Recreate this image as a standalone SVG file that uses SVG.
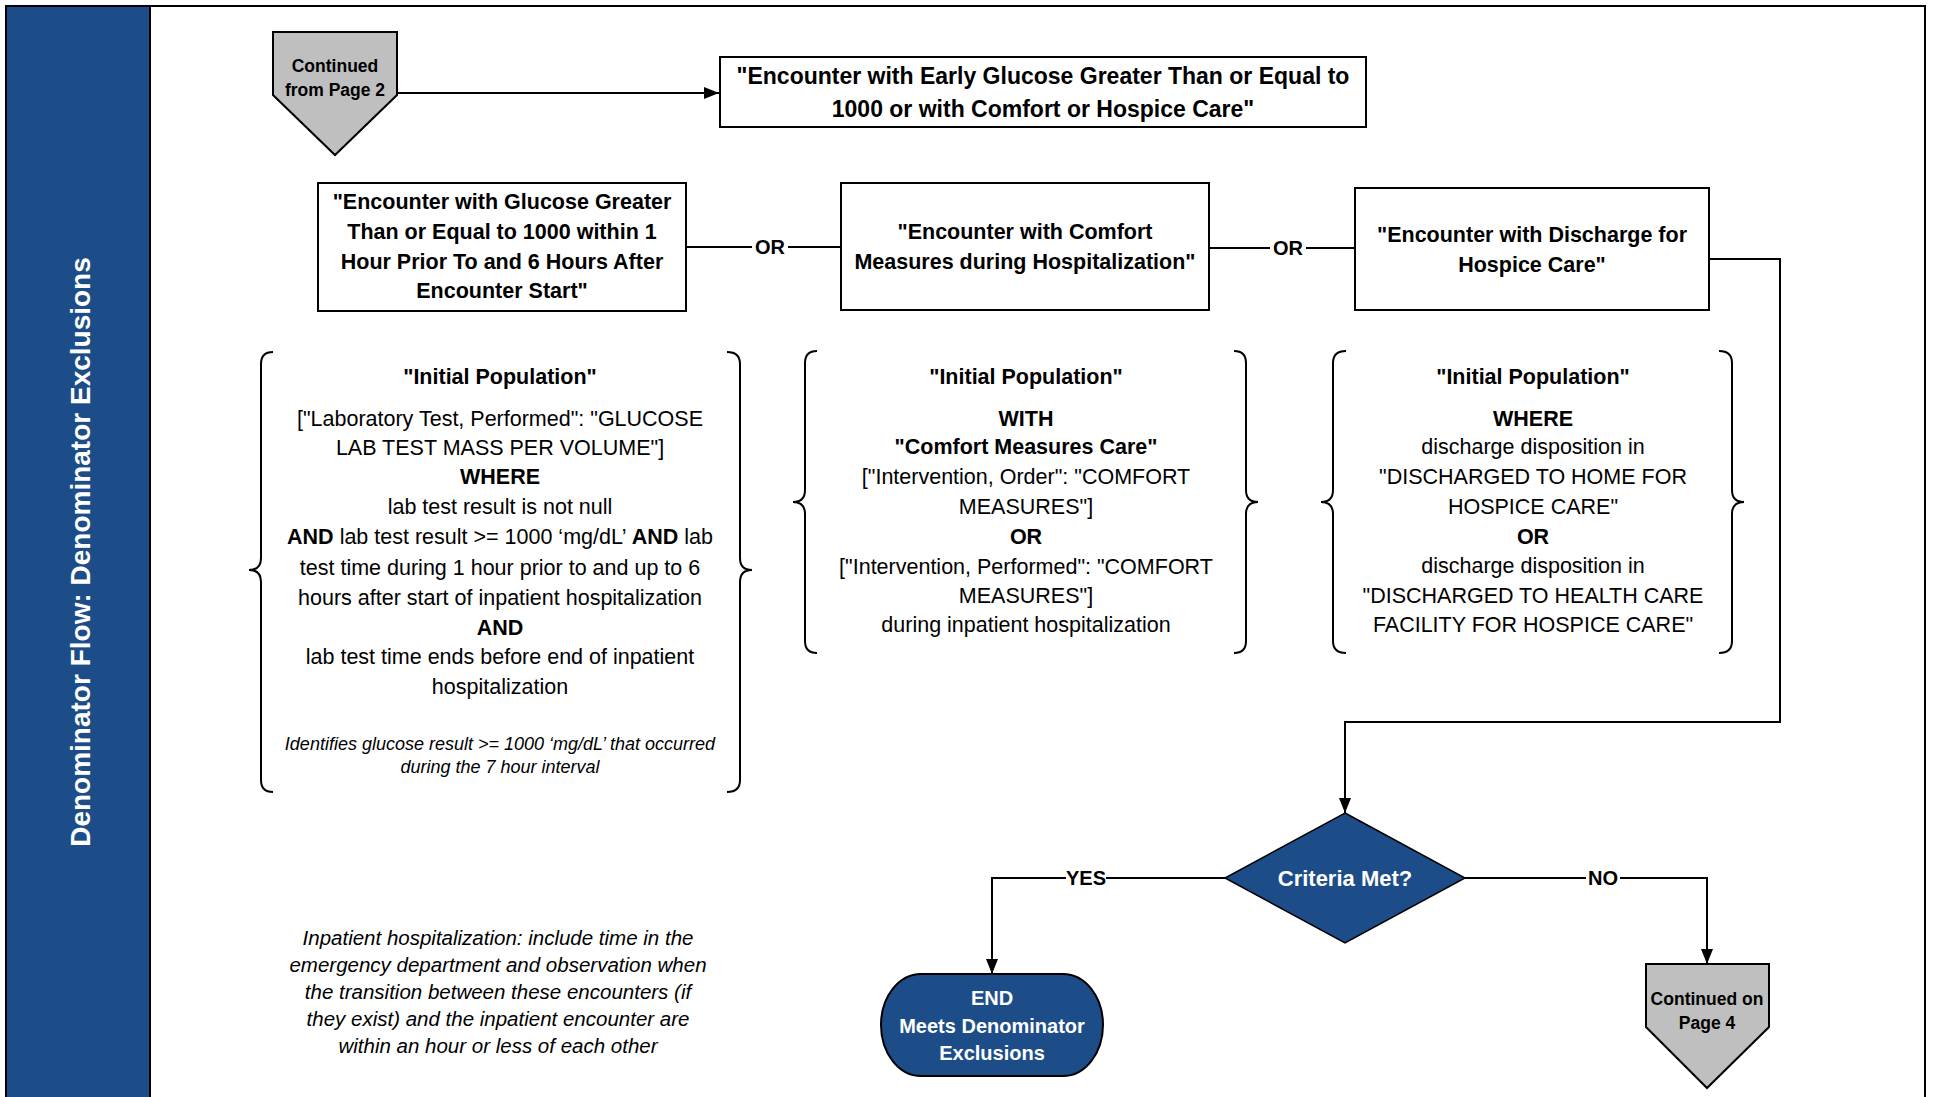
<svg xmlns="http://www.w3.org/2000/svg" width="1933" height="1097" viewBox="0 0 1933 1097">
<defs>
<style>
text{font-family:"Liberation Sans",Arial,sans-serif;fill:#000;text-anchor:middle;dominant-baseline:central}
.box{fill:#fff;stroke:#000;stroke-width:2}
.title{font-weight:bold;font-size:21.5px}
.ttop{font-weight:bold;font-size:23px}
.body{font-size:21.5px}
.b{font-weight:bold}
.note{font-style:italic;font-size:18px}
.note2{font-style:italic;font-size:20.5px}
.lbl{font-weight:bold;font-size:20px}
.wt{fill:#fff;font-weight:bold}
.grey{fill:#BFBFBF;stroke:#000;stroke-width:2}
.blue{fill:#1D4D88;stroke:#000;stroke-width:2}
.brace{fill:none;stroke:#000;stroke-width:2}
.conn{fill:none;stroke:#000;stroke-width:2}
.lblbg{fill:#fff}
</style>
<marker id="arrow" viewBox="0 0 15 12" refX="15" refY="6" markerWidth="15" markerHeight="12" markerUnits="userSpaceOnUse" orient="auto">
<path d="M0,0 L15,6 L0,12 z" fill="#000"/>
</marker>
</defs>
<rect x="0" y="0" width="1933" height="1097" fill="#fff"/>
<rect x="6" y="6" width="1919" height="1100" fill="none" stroke="#000" stroke-width="2"/>
<g id="band">
<rect x="6" y="6" width="144" height="1100" class="blue"/>
<text x="80" y="552" transform="rotate(-90 80 552)" class="wt" font-size="28">Denominator Flow: Denominator Exclusions</text>
</g>
<g id="connectors">
<path class="conn" d="M397,93 H719" marker-end="url(#arrow)"/>
<path class="conn" d="M686,247 H841"/>
<path class="conn" d="M1209,248 H1355"/>
<path class="conn" d="M1709,259 H1780 V722 H1345 V813" marker-end="url(#arrow)"/>
<path class="conn" d="M1225,878 H992 V974" marker-end="url(#arrow)"/>
<path class="conn" d="M1465,878 H1707 V964" marker-end="url(#arrow)"/>
<rect class="lblbg" x="752" y="236" width="36" height="22"/>
<text x="770" y="247" class="lbl">OR</text>
<rect class="lblbg" x="1270" y="237" width="36" height="22"/>
<text x="1288" y="248" class="lbl">OR</text>
<rect class="lblbg" x="1066" y="867" width="40" height="22"/>
<text x="1086" y="878" class="lbl">YES</text>
<rect class="lblbg" x="1586" y="867" width="34" height="22"/>
<text x="1603" y="878" class="lbl">NO</text>
</g>
<g id="start">
<path class="grey" d="M273,32 H397 V95 L335,155 L273,95 Z"/>
<text x="335" y="66" class="b" font-size="17.5">Continued</text>
<text x="335" y="90" class="b" font-size="17.5">from Page 2</text>
</g>
<g id="main">
<rect class="box" x="720" y="57" width="646" height="70"/>
<text x="1043" y="76" class="ttop">"Encounter with Early Glucose Greater Than or Equal to</text>
<text x="1043" y="109" class="ttop">1000 or with Comfort or Hospice Care"</text>
</g>
<g id="glucose">
<rect class="box" x="318" y="183" width="368" height="128"/>
<text x="502" y="202" class="title">"Encounter with Glucose Greater</text>
<text x="502" y="232" class="title">Than or Equal to 1000 within 1</text>
<text x="502" y="262" class="title">Hour Prior To and 6 Hours After</text>
<text x="502" y="291" class="title">Encounter Start"</text>
</g>
<g id="comfort">
<rect class="box" x="841" y="183" width="368" height="127"/>
<text x="1025" y="232" class="title">"Encounter with Comfort</text>
<text x="1025" y="262" class="title">Measures during Hospitalization"</text>
</g>
<g id="hospice">
<rect class="box" x="1355" y="188" width="354" height="122"/>
<text x="1532" y="235" class="title">"Encounter with Discharge for</text>
<text x="1532" y="265" class="title">Hospice Care"</text>
</g>
<g id="glucose-def">
<path class="brace" d="M273,352 Q261,352 261,364 V558 Q261,570 249,570 Q261,570 261,582 V780 Q261,792 273,792"/>
<path class="brace" d="M727,352 Q740,352 740,364 V558 Q740,570 752,570 Q740,570 740,582 V780 Q740,792 727,792"/>
<text x="500" y="377" class="title">"Initial Population"</text>
<text x="500" y="419" class="body">["Laboratory Test, Performed": "GLUCOSE</text>
<text x="500" y="448" class="body">LAB TEST MASS PER VOLUME"]</text>
<text x="500" y="477" class="title">WHERE</text>
<text x="500" y="507" class="body">lab test result is not null</text>
<text x="500" y="537" class="body"><tspan class="b">AND</tspan> lab test result &gt;= 1000 ‘mg/dL’ <tspan class="b">AND</tspan> lab</text>
<text x="500" y="568" class="body">test time during 1 hour prior to and up to 6</text>
<text x="500" y="598" class="body">hours after start of inpatient hospitalization</text>
<text x="500" y="628" class="title">AND</text>
<text x="500" y="657" class="body">lab test time ends before end of inpatient</text>
<text x="500" y="687" class="body">hospitalization</text>
<text x="500" y="744" class="note">Identifies glucose result &gt;= 1000 ‘mg/dL’ that occurred</text>
<text x="500" y="767" class="note">during the 7 hour interval</text>
</g>
<g id="comfort-def">
<path class="brace" d="M817,351 Q805,351 805,363 V490 Q805,502 793,502 Q805,502 805,514 V641 Q805,653 817,653"/>
<path class="brace" d="M1234,351 Q1246,351 1246,363 V490 Q1246,502 1258,502 Q1246,502 1246,514 V641 Q1246,653 1234,653"/>
<text x="1026" y="377" class="title">"Initial Population"</text>
<text x="1026" y="419" class="title">WITH</text>
<text x="1026" y="447" class="title">"Comfort Measures Care"</text>
<text x="1026" y="477" class="body">["Intervention, Order": "COMFORT</text>
<text x="1026" y="507" class="body">MEASURES"]</text>
<text x="1026" y="537" class="title">OR</text>
<text x="1026" y="567" class="body">["Intervention, Performed": "COMFORT</text>
<text x="1026" y="596" class="body">MEASURES"]</text>
<text x="1026" y="625" class="body">during inpatient hospitalization</text>
</g>
<g id="hospice-def">
<path class="brace" d="M1346,351 Q1333,351 1333,363 V490 Q1333,502 1321,502 Q1333,502 1333,514 V641 Q1333,653 1346,653"/>
<path class="brace" d="M1719,351 Q1732,351 1732,363 V490 Q1732,502 1744,502 Q1732,502 1732,514 V641 Q1732,653 1719,653"/>
<text x="1533" y="377" class="title">"Initial Population"</text>
<text x="1533" y="419" class="title">WHERE</text>
<text x="1533" y="447" class="body">discharge disposition in</text>
<text x="1533" y="477" class="body">"DISCHARGED TO HOME FOR</text>
<text x="1533" y="507" class="body">HOSPICE CARE"</text>
<text x="1533" y="537" class="title">OR</text>
<text x="1533" y="566" class="body">discharge disposition in</text>
<text x="1533" y="596" class="body">"DISCHARGED TO HEALTH CARE</text>
<text x="1533" y="625" class="body">FACILITY FOR HOSPICE CARE"</text>
</g>
<g id="decision">
<path d="M1345,813 L1465,878 L1345,943 L1225,878 Z" fill="#1D4D88" stroke="#000" stroke-width="1.5"/>
<text x="1345" y="878" class="wt" font-size="22">Criteria Met?</text>
</g>
<g id="end">
<rect class="blue" x="881" y="974" width="222" height="102" rx="40" ry="51"/>
<text x="992" y="998" class="wt" font-size="20">END</text>
<text x="992" y="1026" class="wt" font-size="20">Meets Denominator</text>
<text x="992" y="1053" class="wt" font-size="20">Exclusions</text>
</g>
<g id="next">
<path class="grey" d="M1646,964 H1769 V1027 L1707,1088 L1646,1027 Z"/>
<text x="1707" y="999" class="b" font-size="17.5">Continued on</text>
<text x="1707" y="1023" class="b" font-size="17.5">Page 4</text>
</g>
<g id="inpatient-note">
<text x="498" y="937" class="note2">Inpatient hospitalization: include time in the</text>
<text x="498" y="964" class="note2">emergency department and observation when</text>
<text x="498" y="991" class="note2">the transition between these encounters (if</text>
<text x="498" y="1018" class="note2">they exist) and the inpatient encounter are</text>
<text x="498" y="1045" class="note2">within an hour or less of each other</text>
</g>
</svg>
